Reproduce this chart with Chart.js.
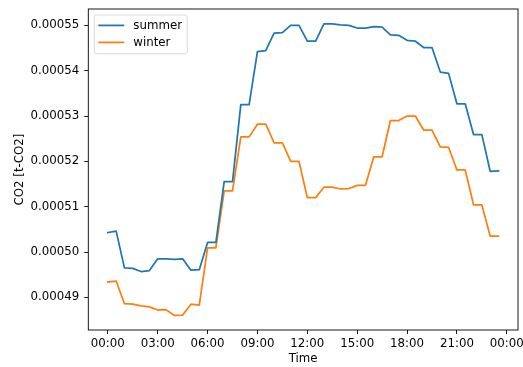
<!DOCTYPE html>
<html>
<head>
<meta charset="utf-8">
<script src="https://cdn.jsdelivr.net/npm/chart.js@4/dist/chart.umd.min.js"></script>
<style>
  html, body { margin: 0; padding: 0; background: #fff; }
  #c { display: block; }
</style>
</head>
<body>
<canvas id="c" width="523" height="367"></canvas>
<script>
// Half-hourly time steps over one day
const times = [
  '00:00','00:30','01:00','01:30','02:00','02:30','03:00','03:30',
  '04:00','04:30','05:00','05:30','06:00','06:30','07:00','07:30',
  '08:00','08:30','09:00','09:30','10:00','10:30','11:00','11:30',
  '12:00','12:30','13:00','13:30','14:00','14:30','15:00','15:30',
  '16:00','16:30','17:00','17:30','18:00','18:30','19:00','19:30',
  '20:00','20:30','21:00','21:30','22:00','22:30','23:00','23:30'
];

// CO2 per time step [t-CO2]
const summer = [
  0.0005043, 0.0005046, 0.0004965, 0.0004964, 0.0004957, 0.0004959,
  0.0004985, 0.0004985, 0.0004984, 0.0004985, 0.0004960, 0.0004961,
  0.0005021, 0.0005021, 0.0005155, 0.0005155, 0.0005325, 0.0005325,
  0.0005442, 0.0005444, 0.0005483, 0.0005484, 0.0005500, 0.0005500,
  0.0005465, 0.0005465, 0.0005503, 0.0005503, 0.0005501, 0.0005500,
  0.0005494, 0.0005494, 0.0005497, 0.0005496, 0.0005479, 0.0005478,
  0.0005467, 0.0005465, 0.0005451, 0.0005451, 0.0005397, 0.0005394,
  0.0005327, 0.0005327, 0.0005259, 0.0005259, 0.0005178, 0.0005179
];
const winter = [
  0.0004934, 0.0004936, 0.0004886, 0.0004885, 0.0004881, 0.0004879,
  0.0004872, 0.0004873, 0.0004860, 0.0004861, 0.0004885, 0.0004883,
  0.0005009, 0.0005009, 0.0005135, 0.0005135, 0.0005254, 0.0005254,
  0.0005282, 0.0005282, 0.0005241, 0.0005241, 0.0005200, 0.0005200,
  0.0005120, 0.0005120, 0.0005143, 0.0005143, 0.0005139, 0.0005140,
  0.0005147, 0.0005147, 0.0005210, 0.0005210, 0.0005290, 0.0005290,
  0.0005300, 0.0005300, 0.0005269, 0.0005269, 0.0005232, 0.0005231,
  0.0005181, 0.0005181, 0.0005104, 0.0005104, 0.0005035, 0.0005035
];

// Axis ticks
const xTickMinutes = [0, 180, 360, 540, 720, 900, 1080, 1260, 1440];
const xTickLabels = ['00:00','03:00','06:00','09:00','12:00','15:00','18:00','21:00','00:00'];
const yTicks = [0.00049, 0.00050, 0.00051, 0.00052, 0.00053, 0.00054, 0.00055];

const toMinutes = t => { const [h, m] = t.split(':').map(Number); return h * 60 + m; };
const points = vals => vals.map((v, i) => ({ x: toMinutes(times[i]), y: v }));

const FONT = { family: '"DejaVu Sans", sans-serif', size: 11.8 };
const BLUE = '#1f77b4';
const ORANGE = '#ff7f0e';

// Full rectangular frame around the plot area
const framePlugin = {
  id: 'frame',
  afterDatasetsDraw(chart) {
    const { ctx, chartArea: a } = chart;
    ctx.save();
    ctx.strokeStyle = '#000';
    ctx.lineWidth = 0.9;
    ctx.strokeRect(a.left, a.top, a.right - a.left, a.bottom - a.top);
    ctx.restore();
  }
};

// Legend box in the upper-left corner of the plot area
const innerLegend = {
  id: 'innerLegend',
  afterDraw(chart) {
    const { ctx, chartArea: a } = chart;
    const x0 = a.left + 6, y0 = a.top + 6, w = 93, h = 38.7, r = 2.5;
    ctx.save();
    ctx.beginPath();
    ctx.roundRect(x0, y0, w, h, r);
    ctx.fillStyle = 'rgba(255,255,255,0.8)';
    ctx.fill();
    ctx.strokeStyle = 'rgba(204,204,204,0.8)';
    ctx.lineWidth = 0.9;
    ctx.stroke();
    ctx.font = `${FONT.size}px ${FONT.family}`;
    ctx.textBaseline = 'middle';
    ctx.textAlign = 'left';
    chart.data.datasets.forEach((ds, i) => {
      const yy = y0 + 10.4 + i * 17;
      ctx.beginPath();
      ctx.moveTo(x0 + 4, yy);
      ctx.lineTo(x0 + 30, yy);
      ctx.strokeStyle = ds.borderColor;
      ctx.lineWidth = 1.75;
      ctx.stroke();
      ctx.fillStyle = '#000';
      ctx.fillText(ds.label, x0 + 39, yy + 0.5);
    });
    ctx.restore();
  }
};

new Chart(document.getElementById('c'), {
  type: 'line',
  data: {
    datasets: [
      { label: 'summer', data: points(summer), borderColor: BLUE, backgroundColor: BLUE },
      { label: 'winter', data: points(winter), borderColor: ORANGE, backgroundColor: ORANGE }
    ]
  },
  options: {
    responsive: false,
    animation: false,
    devicePixelRatio: 1,
    layout: { padding: { top: 9, right: 5, left: 0.3, bottom: 0 } },
    elements: {
      point: { radius: 0, hoverRadius: 0 },
      line: { borderWidth: 1.75, tension: 0, borderJoinStyle: 'round', borderCapStyle: 'square' }
    },
    plugins: { legend: { display: false }, tooltip: { enabled: false } },
    scales: {
      x: {
        type: 'linear',
        min: -70.5,
        max: 1480.5,
        afterBuildTicks: s => { s.ticks = xTickMinutes.map(v => ({ value: v })); },
        afterFit: s => { s.height = 37; s.paddingLeft = 0; s.paddingRight = 0; },
        ticks: {
          autoSkip: false, maxRotation: 0, color: '#000', font: FONT, padding: 3.3,
          callback: (v, i) => xTickLabels[i]
        },
        grid: { drawOnChartArea: false, drawTicks: true, tickLength: 4, color: '#000', lineWidth: 0.9 },
        border: { display: false },
        title: { display: true, text: 'Time', color: '#000', font: FONT, padding: { top: 0, bottom: 0.9 } }
      },
      y: {
        type: 'linear',
        min: 0.0004828,
        max: 0.0005536,
        afterBuildTicks: s => { s.ticks = yTicks.map(v => ({ value: v })); },
        afterFit: s => { s.width = 88; s.paddingTop = 0; s.paddingBottom = 0; },
        ticks: {
          color: '#000', font: FONT, padding: 5,
          callback: v => Number(v).toFixed(5)
        },
        grid: { drawOnChartArea: false, drawTicks: true, tickLength: 4, color: '#000', lineWidth: 0.9 },
        border: { display: false },
        title: { display: true, text: 'CO2 [t-CO2]', color: '#000', font: FONT, padding: { top: 12.7, bottom: 0 } }
      }
    }
  },
  plugins: [framePlugin, innerLegend]
});
</script>
</body>
</html>
